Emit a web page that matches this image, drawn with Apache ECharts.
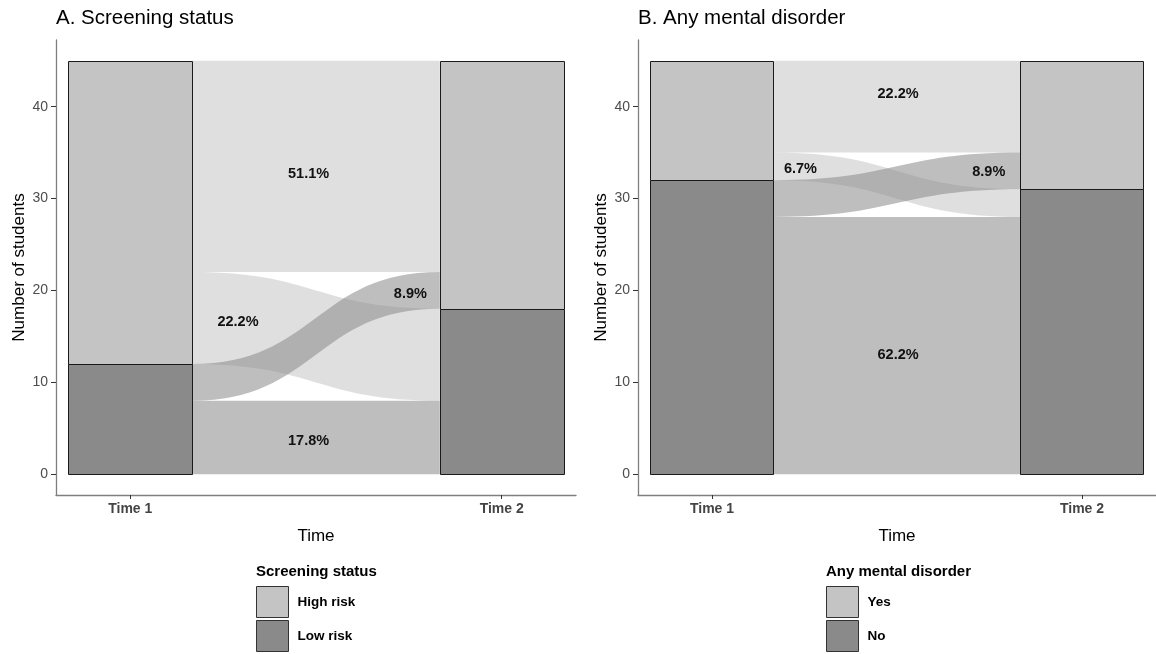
<!DOCTYPE html>
<html>
<head>
<meta charset="utf-8">
<script src="https://cdn.jsdelivr.net/npm/echarts@6/dist/echarts.min.js"></script>
<style>
  html, body { margin: 0; padding: 0; background: #fff; }
  #chart { width: 1156px; height: 654px; }
</style>
</head>
<body>
<div id="chart"></div>
<script>
// ---- data ----
const times = [1, 2]
const timeNames = ['Time 1', 'Time 2']
const yTicks = [0, 10, 20, 30, 40]

// A. Screening status (levels listed top to bottom)
const screenLevels = ['High risk', 'Low risk']
const screenFlowFrom = ['High risk', 'High risk', 'Low risk', 'Low risk']
const screenFlowTo = ['High risk', 'Low risk', 'High risk', 'Low risk']
const screenFlowCount = [23, 10, 4, 8]
const screenLabelX = [1.48, 1.29, 1.754, 1.48]
const screenLabelY = [32.7, 16.6, 19.6, 3.6]

// B. Any mental disorder
const mentalLevels = ['Yes', 'No']
const mentalFlowFrom = ['Yes', 'Yes', 'No', 'No']
const mentalFlowTo = ['Yes', 'No', 'Yes', 'No']
const mentalFlowCount = [10, 3, 4, 28]
const mentalLabelX = [1.503, 1.239, 1.748, 1.503]
const mentalLabelY = [41.4, 33.2, 32.9, 13.0]

const levelColors = ['#c4c4c4', '#8a8a8a']
const flowColors = ['rgba(196,196,196,0.55)', 'rgba(136,136,136,0.55)']
const font = "'Liberation Sans', Arial, sans-serif"
const half = 1 / 6 // half stratum width

// stack the strata and flows like ggalluvial does (first level on top)
function buildAlluvium(levels, from, to, count) {
  const total = count.reduce((a, b) => a + b, 0)
  const n = count.length
  const idx = (l) => levels.indexOf(l)
  // strata
  const strata = levels.map(() => [])
  ;[from, to].forEach((side, t) => {
    let top = total
    levels.forEach((lv, li) => {
      let s = 0
      for (let i = 0; i < n; i++) if (side[i] === lv) s += count[i]
      strata[li].push([times[t], top - s, top])
      top -= s
    })
  })
  // flows: left side ordered by (from, to), right side by (to, from)
  const order = (a, b) => {
    const ids = [...Array(n).keys()]
    ids.sort((i, j) => idx(a[i]) - idx(a[j]) || idx(b[i]) - idx(b[j]))
    const pos = []
    let top = total
    ids.forEach((i) => { pos[i] = [top, top - count[i]]; top -= count[i] })
    return pos
  }
  const left = order(from, to)
  const right = order(to, from)
  const flows = []
  for (let i = 0; i < n; i++) {
    flows.push({
      value: [1 + half, 2 - half, left[i][0], left[i][1], right[i][0], right[i][1]],
      itemStyle: { color: flowColors[idx(from[i])] },
    })
  }
  return { strata, flows, total }
}

function flowItem(params, api) {
  const a = api.coord([api.value(0), api.value(2)])
  const b = api.coord([api.value(1), api.value(4)])
  const c = api.coord([api.value(1), api.value(5)])
  const d = api.coord([api.value(0), api.value(3)])
  const mx = (a[0] + b[0]) / 2
  const path =
    `M${a[0]},${a[1]} C${mx},${a[1]} ${mx},${b[1]} ${b[0]},${b[1]} ` +
    `L${c[0]},${c[1]} C${mx},${c[1]} ${mx},${d[1]} ${d[0]},${d[1]} Z`
  return { type: 'path', shape: { pathData: path }, style: { fill: api.visual('color') } }
}

function stratumItem(params, api) {
  const p0 = api.coord([api.value(0) - half, api.value(2)])
  const p1 = api.coord([api.value(0) + half, api.value(1)])
  return {
    type: 'rect',
    shape: { x: Math.round(p0[0]) + 0.5, y: Math.round(p0[1]) + 0.5, width: Math.round(p1[0] - p0[0]), height: Math.round(p1[1] - p0[1]) },
    style: { fill: api.visual('color'), stroke: '#1a1a1a', lineWidth: 1 },
  }
}

function labelRenderer(texts) {
  return function (params, api) {
    const p = api.coord([api.value(0), api.value(1)])
    return {
      type: 'text',
      x: p[0],
      y: p[1],
      style: {
        text: texts[params.dataIndex],
        align: 'center',
        verticalAlign: 'middle',
        fill: '#111',
        font: `bold 14.5px ${font}`,
      },
    }
  }
}

function panelSeries(k, levels, from, to, count, lx, ly) {
  const al = buildAlluvium(levels, from, to, count)
  const texts = count.map((c) => ((c / al.total) * 100).toFixed(1) + '%')
  const list = [
    {
      type: 'custom',
      xAxisIndex: k,
      yAxisIndex: k,
      renderItem: flowItem,
      encode: { x: [0, 1], y: [2, 3, 4, 5] },
      data: al.flows,
      silent: true,
    },
  ]
  levels.forEach((lv, li) => {
    list.push({
      type: 'custom',
      name: lv,
      xAxisIndex: k,
      yAxisIndex: k,
      renderItem: stratumItem,
      encode: { x: 0, y: [1, 2] },
      itemStyle: { color: levelColors[li] },
      data: al.strata[li],
      silent: true,
    })
  })
  list.push({
    type: 'custom',
    xAxisIndex: k,
    yAxisIndex: k,
    renderItem: labelRenderer(texts),
    encode: { x: 0, y: 1 },
    data: lx.map((x, i) => [x, ly[i]]),
    silent: true,
  })
  return list
}

function xAxisFor(k) {
  return {
    type: 'value',
    gridIndex: k,
    min: 0.8,
    max: 2.2,
    name: 'Time',
    nameLocation: 'middle',
    nameGap: 33,
    nameTextStyle: { fontFamily: font, fontSize: 17, color: '#000' },
    axisLine: { onZero: false, lineStyle: { color: '#7f7f7f', width: 1.3 } },
    axisTick: { show: true, length: 4, lineStyle: { color: '#333' }, customValues: times },
    axisLabel: {
      customValues: times,
      formatter: (v) => timeNames[times.indexOf(v)],
      fontFamily: font,
      fontSize: 14,
      fontWeight: 'bold',
      color: '#444',
      margin: 7,
    },
    splitLine: { show: false },
  }
}

function yAxisFor(k) {
  return {
    type: 'value',
    gridIndex: k,
    min: -2.25,
    max: 47.25,
    name: 'Number of students',
    nameLocation: 'middle',
    nameGap: 28,
    nameTextStyle: { fontFamily: font, fontSize: 17, color: '#000' },
    axisLine: { show: true, onZero: false, lineStyle: { color: '#7f7f7f', width: 1.3 } },
    axisTick: { show: true, length: 5, lineStyle: { color: '#333' }, customValues: yTicks },
    axisLabel: { customValues: yTicks, fontFamily: font, fontSize: 14, color: '#4d4d4d', margin: 8 },
    splitLine: { show: false },
  }
}

function legendFor(levels, left) {
  return {
    left: left,
    top: 586,
    orient: 'vertical',
    padding: 0,
    itemWidth: 32,
    itemHeight: 31,
    itemGap: 2,
    selectedMode: false,
    icon: 'rect',
    itemStyle: { borderColor: '#333', borderWidth: 1 },
    textStyle: { fontFamily: font, fontSize: 13.5, fontWeight: 'bold', color: '#000', padding: [0, 0, 0, 4] },
    data: levels,
  }
}

const chart = echarts.init(document.getElementById('chart'))
chart.setOption({
  backgroundColor: '#fff',
  animation: false,
  title: [
    { text: 'A. Screening status', left: 56, top: 8, padding: 0, textStyle: { fontFamily: font, fontSize: 20.5, fontWeight: 'normal', color: '#000' } },
    { text: 'B. Any mental disorder', left: 638, top: 8, padding: 0, textStyle: { fontFamily: font, fontSize: 20.5, fontWeight: 'normal', color: '#000' } },
    { text: 'Screening status', left: 256, top: 564, padding: 0, textStyle: { fontFamily: font, fontSize: 15, fontWeight: 'bold', color: '#000' } },
    { text: 'Any mental disorder', left: 826, top: 564, padding: 0, textStyle: { fontFamily: font, fontSize: 15, fontWeight: 'bold', color: '#000' } },
  ],
  legend: [legendFor(screenLevels, 256), legendFor(mentalLevels, 826)],
  grid: [
    { left: 56, top: 40, width: 520, height: 455 },
    { left: 638, top: 40, width: 520, height: 455 },
  ],
  xAxis: [xAxisFor(0), xAxisFor(1)],
  yAxis: [yAxisFor(0), yAxisFor(1)],
  series: [
    ...panelSeries(0, screenLevels, screenFlowFrom, screenFlowTo, screenFlowCount, screenLabelX, screenLabelY),
    ...panelSeries(1, mentalLevels, mentalFlowFrom, mentalFlowTo, mentalFlowCount, mentalLabelX, mentalLabelY),
  ],
})
</script>
</body>
</html>
